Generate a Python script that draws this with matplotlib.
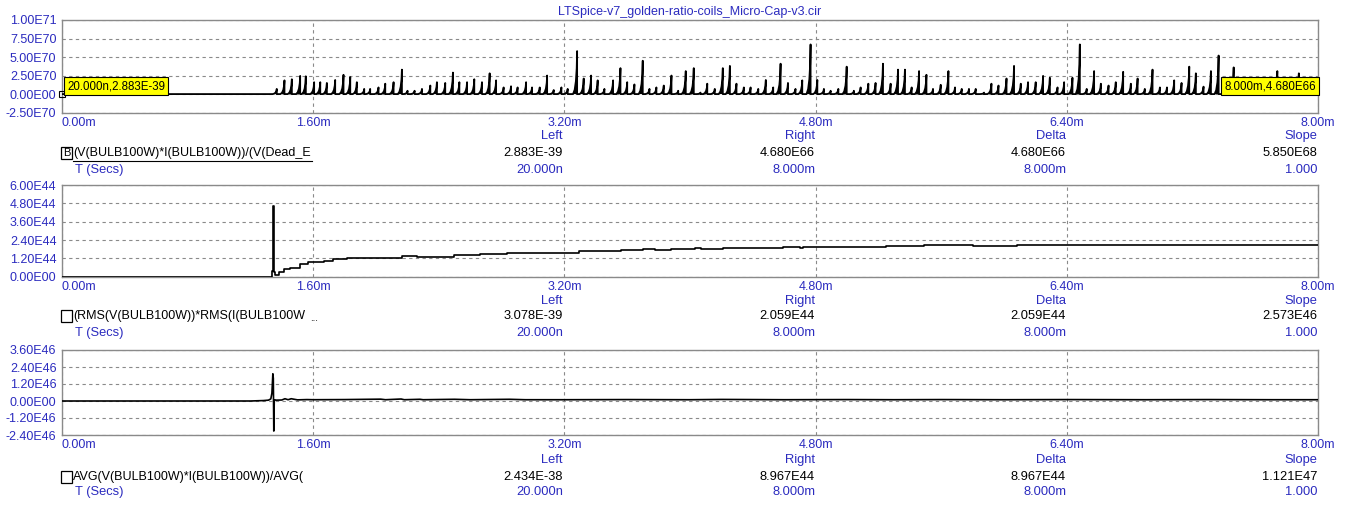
import matplotlib.pyplot as plt
from matplotlib.patches import Rectangle
from matplotlib.lines import Line2D

W, H = 1353, 513
BLUE = "#2b2bbf"
GRID = "#8a8a8a"

plt.rcParams["font.family"] = ["Liberation Sans", "DejaVu Sans"]
plt.rcParams["font.size"] = 9

title = "LTSpice-v7_golden-ratio-coils_Micro-Cap-v3.cir"

x_ticks = [0.0, 1.6, 3.2, 4.8, 6.4, 8.0]
x_labels = ["0.00m", "1.60m", "3.20m", "4.80m", "6.40m", "8.00m"]

# panel 1: instantaneous power ratio, spikes (time in ms, height in E70)
spike_t = [1.368, 1.417, 1.464, 1.517, 1.553, 1.606, 1.645, 1.687, 1.740, 1.793, 1.836, 1.878,
           1.925, 1.963, 2.016, 2.059, 2.112, 2.165, 2.201, 2.246, 2.293, 2.346, 2.388, 2.441,
           2.490, 2.531, 2.580, 2.626, 2.675, 2.724, 2.765, 2.813, 2.860, 2.902, 2.956, 2.994,
           3.043, 3.090, 3.132, 3.181, 3.221, 3.281, 3.323, 3.370, 3.412, 3.455, 3.510, 3.557,
           3.600, 3.646, 3.699, 3.742, 3.786, 3.833, 3.882, 3.925, 3.973, 4.024, 4.067, 4.110,
           4.158, 4.209, 4.254, 4.296, 4.343, 4.386, 4.435, 4.483, 4.530, 4.577, 4.624, 4.672,
           4.715, 4.768, 4.811, 4.853, 4.896, 4.945, 4.998, 5.044, 5.087, 5.136, 5.182, 5.229,
           5.278, 5.325, 5.369, 5.412, 5.459, 5.506, 5.548, 5.597, 5.646, 5.688, 5.731, 5.777,
           5.820, 5.873, 5.920, 5.965, 6.016, 6.064, 6.107, 6.153, 6.202, 6.249, 6.292, 6.341,
           6.383, 6.436, 6.483, 6.527, 6.574, 6.617, 6.666, 6.712, 6.759, 6.808, 6.851, 6.897,
           6.946, 6.993, 7.038, 7.084, 7.131, 7.180, 7.222, 7.271, 7.318, 7.367, 7.413, 7.463,
           7.510, 7.557, 7.604, 7.651, 7.698, 7.741, 7.788, 7.835, 7.878, 7.925, 7.972]
spike_h = [0.7, 1.85, 2.0, 2.45, 2.4, 1.6, 1.6, 1.5, 1.9, 2.6, 2.3, 1.6,
           0.7, 0.7, 0.9, 1.4, 1.6, 3.3, 0.45, 0.45, 0.7, 1.15, 1.6, 1.5,
           2.9, 1.6, 1.6, 2.0, 1.6, 2.8, 1.85, 0.9, 1.05, 0.9, 1.6, 0.9,
           0.9, 2.5, 0.55, 0.9, 0.7, 5.8, 2.1, 2.5, 1.85, 0.7, 1.85, 3.5,
           1.6, 1.3, 4.5, 0.7, 0.9, 1.15, 2.5, 0.45, 3.1, 3.5, 0.2, 1.4,
           0.7, 3.5, 3.8, 1.4, 0.9, 0.9, 0.7, 1.9, 0.9, 4.1, 1.5, 0.7,
           1.85, 6.7, 1.9, 0.7, 0.45, 0.7, 3.7, 0.45, 0.9, 1.4, 1.5, 4.1,
           1.4, 3.3, 3.3, 0.9, 3.1, 2.6, 0.7, 1.25, 3.1, 0.9, 0.7, 0.7,
           0.7, 0.2, 1.4, 1.15, 2.1, 3.8, 1.4, 1.6, 1.6, 2.45, 2.2, 0.9,
           1.6, 2.2, 6.7, 0.7, 3.1, 1.4, 1.15, 1.6, 3.0, 1.4, 2.1, 0.7,
           3.3, 0.9, 0.9, 1.85, 1.5, 3.7, 2.8, 1.0, 3.1, 5.2, 0.45, 3.6,
           0.5, 0.6, 0.5, 0.7, 0.6, 3.1, 0.6, 0.5, 2.8, 0.6, 0.7]
p1_yticks = [10.0, 7.5, 5.0, 2.5, 0.0, -2.5]
p1_ylabels = ["1.00E71", "7.50E70", "5.00E70", "2.50E70", "0.00E00", "-2.50E70"]

# panel 2: RMS product (E44)
rms_t = [0.0, 1.330, 1.340, 1.345, 1.350, 1.358, 1.379, 1.411, 1.453, 1.517, 1.570, 1.666,
         1.729, 1.815, 1.942, 2.165, 2.261, 2.388, 2.494, 2.665, 2.835, 3.004, 3.080, 3.290,
         3.560, 3.700, 3.780, 3.880, 4.030, 4.070, 4.210, 4.590, 4.700, 4.720, 5.250, 5.490,
         5.800, 6.080, 6.270, 8.000]
rms_v = [0.0, 0.0, 0.4, 4.65, 0.3, 0.11, 0.29, 0.48, 0.59, 0.82, 0.97, 1.04,
         1.13, 1.22, 1.25, 1.34, 1.29, 1.31, 1.40, 1.47, 1.54, 1.56, 1.57, 1.68,
         1.75, 1.81, 1.72, 1.79, 1.85, 1.81, 1.88, 1.94, 1.88, 1.96, 2.00, 2.05,
         1.99, 2.05, 2.06, 2.059]
p2_yticks = [6.0, 4.8, 3.6, 2.4, 1.2, 0.0]
p2_ylabels = ["6.00E44", "4.80E44", "3.60E44", "2.40E44", "1.20E44", "0.00E00"]

# panel 3: AVG ratio (E46)
avg_t = [0.0, 1.200, 1.283, 1.315, 1.330, 1.337, 1.343, 1.346, 1.349, 1.352, 1.356, 1.365,
         1.400, 1.420, 1.440, 1.460, 1.500, 1.560, 1.600, 1.800, 2.030, 2.060, 2.160, 2.180,
         2.280, 2.300, 2.500, 2.600, 2.850, 2.950, 3.200, 3.600, 4.000, 4.200, 4.600, 5.000,
         5.300, 5.600, 6.000, 6.400, 6.900, 7.300, 7.700, 8.000]
avg_v = [0.0, 0.0, 0.03, 0.06, 0.15, 0.55, 1.92, 1.60, -2.12, 0.05, 0.08, 0.06,
         0.07, 0.16, 0.09, 0.16, 0.08, 0.10, 0.09, 0.10, 0.13, 0.09, 0.14, 0.09,
         0.12, 0.09, 0.12, 0.09, 0.12, 0.09, 0.09, 0.10, 0.09, 0.11, 0.09, 0.10,
         0.09, 0.10, 0.09, 0.10, 0.09, 0.10, 0.09, 0.0897]
p3_yticks = [3.6, 2.4, 1.2, 0.0, -1.2, -2.4]
p3_ylabels = ["3.60E46", "2.40E46", "1.20E46", "0.00E00", "-1.20E46", "-2.40E46"]

# readout tables
columns = ["Left", "Right", "Delta", "Slope"]
readouts = [
    ("(V(BULB100W)*I(BULB100W))/(V(Dead_E",
     ["2.883E-39", "4.680E66", "4.680E66", "5.850E68"]),
    ("(RMS(V(BULB100W))*RMS(I(BULB100W",
     ["3.078E-39", "2.059E44", "2.059E44", "2.573E46"]),
    ("AVG(V(BULB100W)*I(BULB100W))/AVG(",
     ["2.434E-38", "8.967E44", "8.967E44", "1.121E47"]),
]
time_row = ["20.000n", "8.000m", "8.000m", "1.000"]

fig = plt.figure(figsize=(W / 100, H / 100), dpi=100)
fig.patch.set_facecolor("white")


def px_axes(left, top, right, bottom):
    return fig.add_axes([left / W, 1 - bottom / H, (right - left) / W, (bottom - top) / H])


def ftext(x, y, s, **kw):
    return fig.text(x / W, 1 - y / H, s, **kw)


def style(ax, yticks, ylabels, ylim):
    ax.set_xlim(0, 8)
    ax.set_ylim(*ylim)
    ax.set_xticks(x_ticks)
    ax.set_xticklabels(x_labels, color=BLUE)
    ax.get_xticklabels()[0].set_ha("left")
    ax.set_yticks(yticks)
    ax.set_yticklabels(ylabels, color=BLUE)
    ax.tick_params(length=0, labelsize=9)
    ax.tick_params(axis="x", pad=3)
    ax.tick_params(axis="y", pad=4)
    ax.grid(True, color=GRID, linestyle=(0, (3, 3)), linewidth=0.8)
    for sp in ax.spines.values():
        sp.set_color(GRID)
        sp.set_linewidth(1.0)


ax1 = px_axes(62, 20, 1318, 112.6)
ax2 = px_axes(62, 185, 1318, 276.7)
ax3 = px_axes(62, 350, 1318, 435)

# spikes: sharp ramp up then vertical drop
w = 0.026
xs, ys = [0.0], [0.0]
for t, h in zip(spike_t, spike_h):
    xs += [t - w, t - 0.6 * w, t - 0.3 * w, t - 0.1 * w, t, t]
    ys += [0.0, 0.1 * h, 0.3 * h, 0.6 * h, h, 0.0]
xs.append(8.0)
ys.append(0.0)
ax1.fill(xs, ys, color="black", lw=0, zorder=3)
ax1.plot(xs, ys, color="black", lw=1.3, zorder=3)
style(ax1, p1_yticks, p1_ylabels, (-2.5, 10.0))

ax1.plot([0.0], [0.0], marker="s", ms=4, mfc="none", mec="black", mew=0.8,
         clip_on=False, zorder=5)
box = dict(boxstyle="square,pad=0.25", fc="#ffff00", ec="black", lw=0.8)
ax1.annotate("20.000n,2.883E-39", xy=(0, 0), xytext=(5, 2), textcoords="offset pixels",
             ha="left", va="bottom", bbox=box, zorder=6, fontsize=8.3)
ax1.annotate("8.000m,4.680E66", xy=(8, 0), xytext=(-2, 2), textcoords="offset pixels",
             ha="right", va="bottom", bbox=box, zorder=6, fontsize=8.3)

ax2.plot(rms_t, rms_v, color="black", lw=1.2, drawstyle="steps-post", zorder=3)
style(ax2, p2_yticks, p2_ylabels, (0.0, 6.0))

ax3.plot(avg_t, avg_v, color="black", lw=1.2, zorder=3)
style(ax3, p3_yticks, p3_ylabels, (-2.4, 3.6))

ftext(690, 12, title, color=BLUE, ha="center", va="center", fontsize=9)

col_x = [563, 815, 1066, 1317]
rows_y = [(136, 153, 170), (301, 316, 333), (460, 477, 492)]
for (name, vals), (yh, yn, yt) in zip(readouts, rows_y):
    for cx, c, v, tv in zip(col_x, columns, vals, time_row):
        ftext(cx, yh, c, color=BLUE, ha="right", va="center", fontsize=9.3)
        ftext(cx, yn, v, color="black", ha="right", va="center", fontsize=9.3)
        ftext(cx, yt, tv, color=BLUE, ha="right", va="center", fontsize=9.3)
    fig.add_artist(Rectangle((61 / W, 1 - (yn + 6) / H), 11 / W, 12 / H,
                             transform=fig.transFigure, fill=False, ec="black", lw=0.9))
    ftext(73, yn, name, color="black", ha="left", va="center", fontsize=9)
    ftext(75, yt, "T (Secs)", color=BLUE, ha="left", va="center", fontsize=9.3)

ftext(66.8, 153, "B", color="black", ha="center", va="center", fontsize=8)
fig.add_artist(Line2D([73 / W, 312 / W], [1 - 160.5 / H] * 2, transform=fig.transFigure,
                      color="black", lw=0.8))
ftext(310, 318, "...", color="black", ha="left", va="center", fontsize=7)

fig.savefig("out.png", dpi=100)
